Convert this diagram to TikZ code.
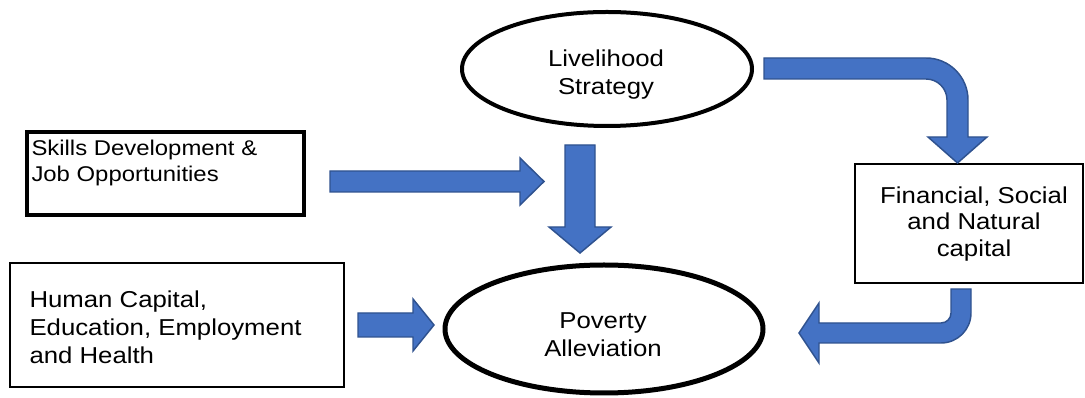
\documentclass[tikz,border=0pt]{standalone}
\usepackage{fontspec}
\setmainfont{Liberation Sans}[FakeStretch=1.12]
\usetikzlibrary{shapes.geometric}

\tikzset{every picture/.style={line width=0.75pt}}
\tikzset{
	blockarrow/.style={draw={rgb, 255:red, 47; green, 82; blue, 143}, fill={rgb, 255:red, 68; green, 114; blue, 196}, fill opacity=1, line width=1.1pt},
	boxnode/.style={draw, rectangle, inner sep=0pt},
	ovalnode/.style={draw, ellipse, inner sep=0pt},
	boxtext/.style={inner sep=0pt, font=\fontsize{17.25}{21}\selectfont}}

\begin{document}
\begin{tikzpicture}[x=0.75pt,y=0.75pt,yscale=-1,xscale=1]
	\path (0,0) rectangle (1085,398); %set diagram to 1085 x 398

	%Shape: Ellipse [livelihood]
	\node [ovalnode, line width=3pt, minimum width=217.5pt, minimum height=85.5pt] (livelihood) at (607,69) {};
	%Shape: Ellipse [poverty]
	\node [ovalnode, line width=3.75pt, minimum width=238.5pt, minimum height=96pt] (poverty) at (604,329) {};
	%Shape: Rectangle [skills]
	\node [boxnode, line width=3pt, minimum width=207.75pt, minimum height=62.25pt] (skills) at (165.5,173.5) {};
	%Shape: Rectangle [human]
	\node [boxnode, line width=1.1pt, minimum width=250.5pt, minimum height=93pt] (human) at (177,325) {};
	%Shape: Rectangle [finance]
	\node [boxnode, line width=1.3pt, minimum width=171pt, minimum height=89.25pt] (finance) at (969,223.5) {};

	%Right Arrow [skills to poverty]
	\draw [blockarrow] (330,171) -- (520,171) -- (520,158) -- (544,181.5) -- (520,205) -- (520,192) -- (330,192) -- cycle ;
	%Down Arrow [livelihood to poverty]
	\draw [blockarrow] (565,145) -- (595,145) -- (595,227) -- (611,227) -- (580,253) -- (549,227) -- (565,227) -- cycle ;
	%Right Arrow [human to poverty]
	\draw [blockarrow] (358,313) -- (413,313) -- (413,299) -- (434,325) -- (413,351) -- (413,337) -- (358,337) -- cycle ;
	%Bent Arrow [livelihood to finance]
	\draw [blockarrow] (764,58) -- (926,58) arc[start angle=-90, end angle=0, radius=42] -- (968,137) -- (987,137) -- (957.5,163) -- (928,137) -- (947,137) -- (947,100) arc[start angle=0, end angle=-90, radius=21] -- (764,79) -- cycle ;
	%Bent Arrow [finance to poverty]
	\draw [blockarrow] (951,289) -- (971,289) -- (971,313) arc[start angle=0, end angle=90, radius=30] -- (819,343) -- (819,363) -- (799,333) -- (819,303) -- (819,323) -- (941,323) arc[start angle=90, end angle=0, radius=10] -- cycle ;

	% Text Node
	\node [boxtext, anchor=north west, align=left, font=\fontsize{16}{19.5}\selectfont] (skillstext) at (31,140) {Skills Development \&\\Job Opportunities};
	% Text Node
	\node [boxtext, anchor=north west, align=left] (humantext) at (29,290) {Human Capital,\\Education, Employment\\and Health};
	% Text Node
	\node [boxtext, align=center, font=\fontsize{17.25}{20}\selectfont] (financetext) at (974,224) {Financial, Social\\and Natural\\capital};
	% Text Node
	\node [boxtext, align=center] (livelihoodtext) at (606,75) {Livelihood\\Strategy};
	% Text Node
	\node [boxtext, align=center] (povertytext) at (603,335) {Poverty\\Alleviation};

\end{tikzpicture}
\end{document}
